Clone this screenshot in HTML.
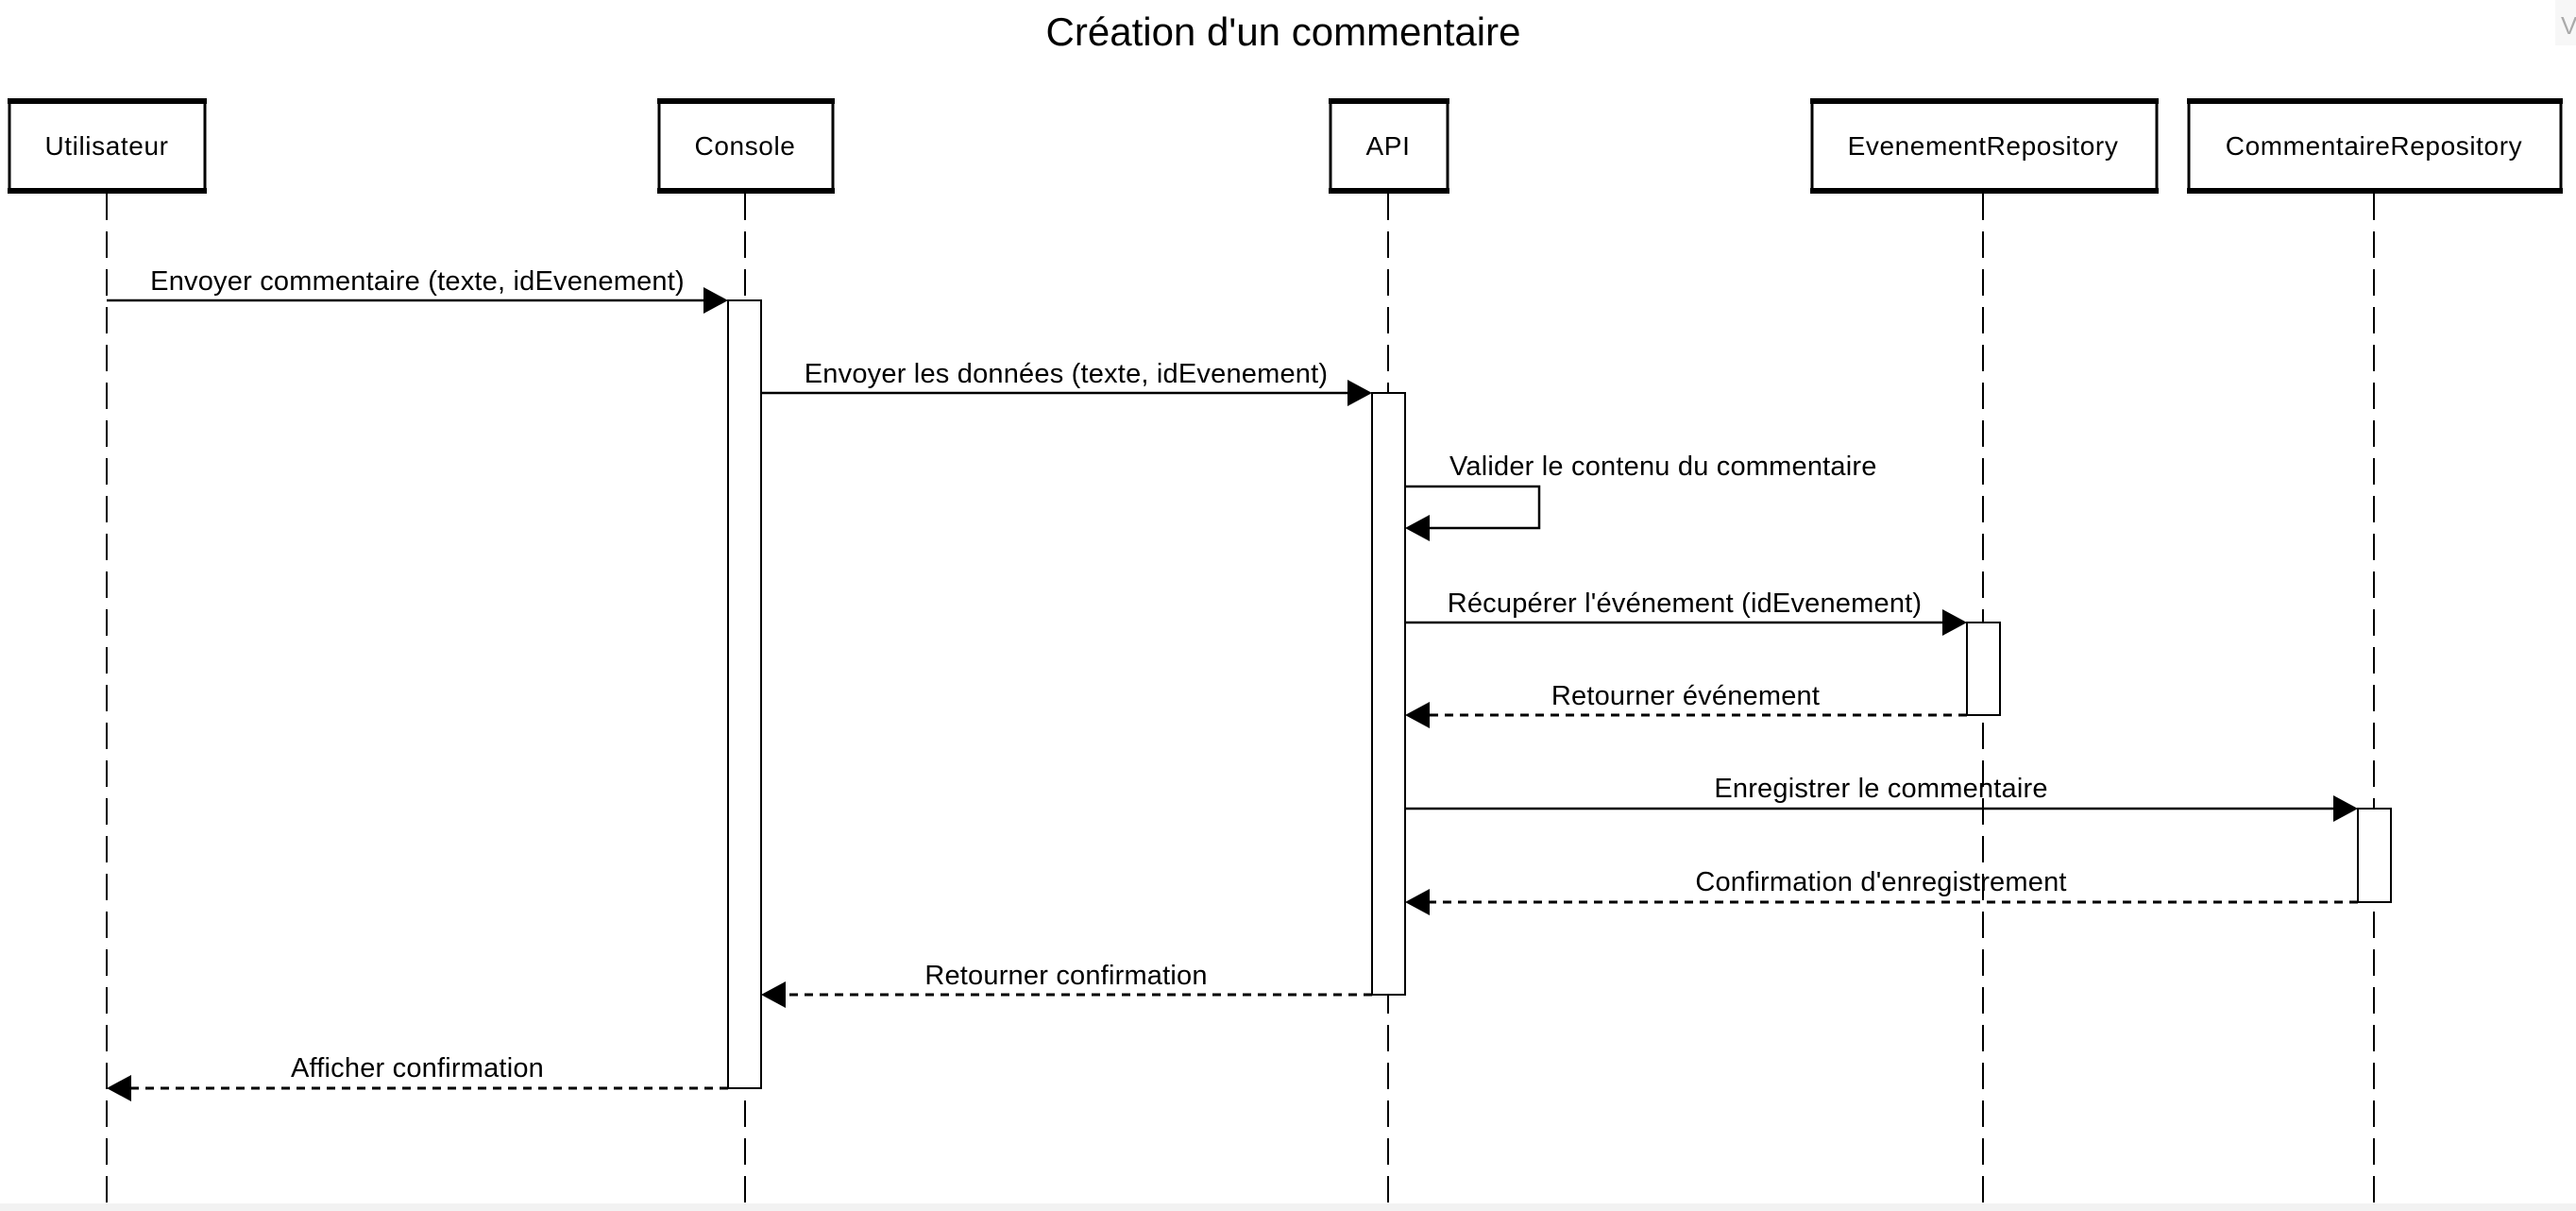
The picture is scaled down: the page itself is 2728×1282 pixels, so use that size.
<!DOCTYPE html>
<html><head><meta charset="utf-8"><style>
html,body{margin:0;padding:0;background:#fff;}
svg{display:block;}
text{font-family:"Liberation Sans",Arial,sans-serif;fill:#000;}
</style></head><body>
<svg width="2728" height="1282" viewBox="0 0 2728 1282" xmlns="http://www.w3.org/2000/svg">
<rect x="0" y="0" width="2728" height="1282" fill="#fff"/>
<rect x="0" y="1274" width="2728" height="8" fill="#f2f2f2"/>
<rect x="2706" y="0" width="22" height="48" fill="#f7f7f7"/>
<text x="2712" y="36" font-size="26" style="fill:#aaa">V</text>
<text x="1359" y="48" font-size="42" text-anchor="middle">Création d'un commentaire</text>

<g stroke="#000" stroke-width="2" stroke-dasharray="28 12" fill="none">
<line x1="113" y1="205" x2="113" y2="1274"/>
<line x1="789" y1="205" x2="789" y2="1274"/>
<line x1="1470" y1="205" x2="1470" y2="1274"/>
<line x1="2100" y1="205" x2="2100" y2="1274"/>
<line x1="2514" y1="205" x2="2514" y2="1274"/>
</g>

<g fill="#fff" stroke="#000">
<rect x="10" y="106" width="207" height="96" stroke-width="3"/>
<rect x="698" y="106" width="184" height="96" stroke-width="3"/>
<rect x="1409" y="106" width="124" height="96" stroke-width="3"/>
<rect x="1919" y="106" width="365" height="96" stroke-width="3"/>
<rect x="2318" y="106" width="394" height="96" stroke-width="3"/>
</g>
<g fill="#000">
<rect x="8" y="104" width="211" height="6"/><rect x="8" y="199" width="211" height="6"/>
<rect x="696" y="104" width="188" height="6"/><rect x="696" y="199" width="188" height="6"/>
<rect x="1407" y="104" width="128" height="6"/><rect x="1407" y="199" width="128" height="6"/>
<rect x="1917" y="104" width="369" height="6"/><rect x="1917" y="199" width="369" height="6"/>
<rect x="2316" y="104" width="398" height="6"/><rect x="2316" y="199" width="398" height="6"/>
</g>
<g font-size="28" letter-spacing="0.6" text-anchor="middle">
<text x="113" y="164">Utilisateur</text>
<text x="789" y="164">Console</text>
<text x="1470" y="164">API</text>
<text x="2100" y="164">EvenementRepository</text>
<text x="2514" y="164">CommentaireRepository</text>
</g>

<g fill="#fff" stroke="#000" stroke-width="2">
<rect x="771" y="318" width="35" height="834"/>
<rect x="1453" y="416" width="35" height="637"/>
<rect x="2083" y="659" width="35" height="98"/>
<rect x="2497" y="856" width="35" height="99"/>
</g>

<g stroke="#000" stroke-width="2.5" fill="none">
<line x1="113" y1="318" x2="750" y2="318"/>
<line x1="806" y1="416" x2="1432" y2="416"/>
<polyline points="1488,515 1630,515 1630,559 1512,559"/>
<line x1="1488" y1="659" x2="2062" y2="659"/>
<line x1="1488" y1="856" x2="2476" y2="856"/>
</g>
<g stroke="#000" stroke-width="3" stroke-dasharray="9 7" fill="none">
<line x1="2083" y1="757" x2="1512" y2="757"/>
<line x1="2497" y1="955" x2="1512" y2="955"/>
<line x1="1453" y1="1053" x2="830" y2="1053"/>
<line x1="771" y1="1152" x2="137" y2="1152"/>
</g>
<g fill="#000">
<polygon points="771,318 745,304 745,332"/>
<polygon points="1453,416 1427,402 1427,430"/>
<polygon points="1488,559 1514,545 1514,573"/>
<polygon points="2083,659 2057,645 2057,673"/>
<polygon points="1488,757 1514,743 1514,771"/>
<polygon points="2497,856 2471,842 2471,870"/>
<polygon points="1488,955 1514,941 1514,969"/>
<polygon points="806,1053 832,1039 832,1067"/>
<polygon points="113,1152 139,1138 139,1166"/>
</g>

<g font-size="29" letter-spacing="0.2" text-anchor="middle">
<text x="442" y="307">Envoyer commentaire (texte, idEvenement)</text>
<text x="1129" y="405">Envoyer les données (texte, idEvenement)</text>
<text x="1535" y="503" text-anchor="start">Valider le contenu du commentaire</text>
<text x="1784" y="648">Récupérer l'événement (idEvenement)</text>
<text x="1785" y="746">Retourner événement</text>
<text x="1992" y="844">Enregistrer le commentaire</text>
<text x="1992" y="943">Confirmation d'enregistrement</text>
<text x="1129" y="1042">Retourner confirmation</text>
<text x="442" y="1140">Afficher confirmation</text>
</g>
</svg>
</body></html>
